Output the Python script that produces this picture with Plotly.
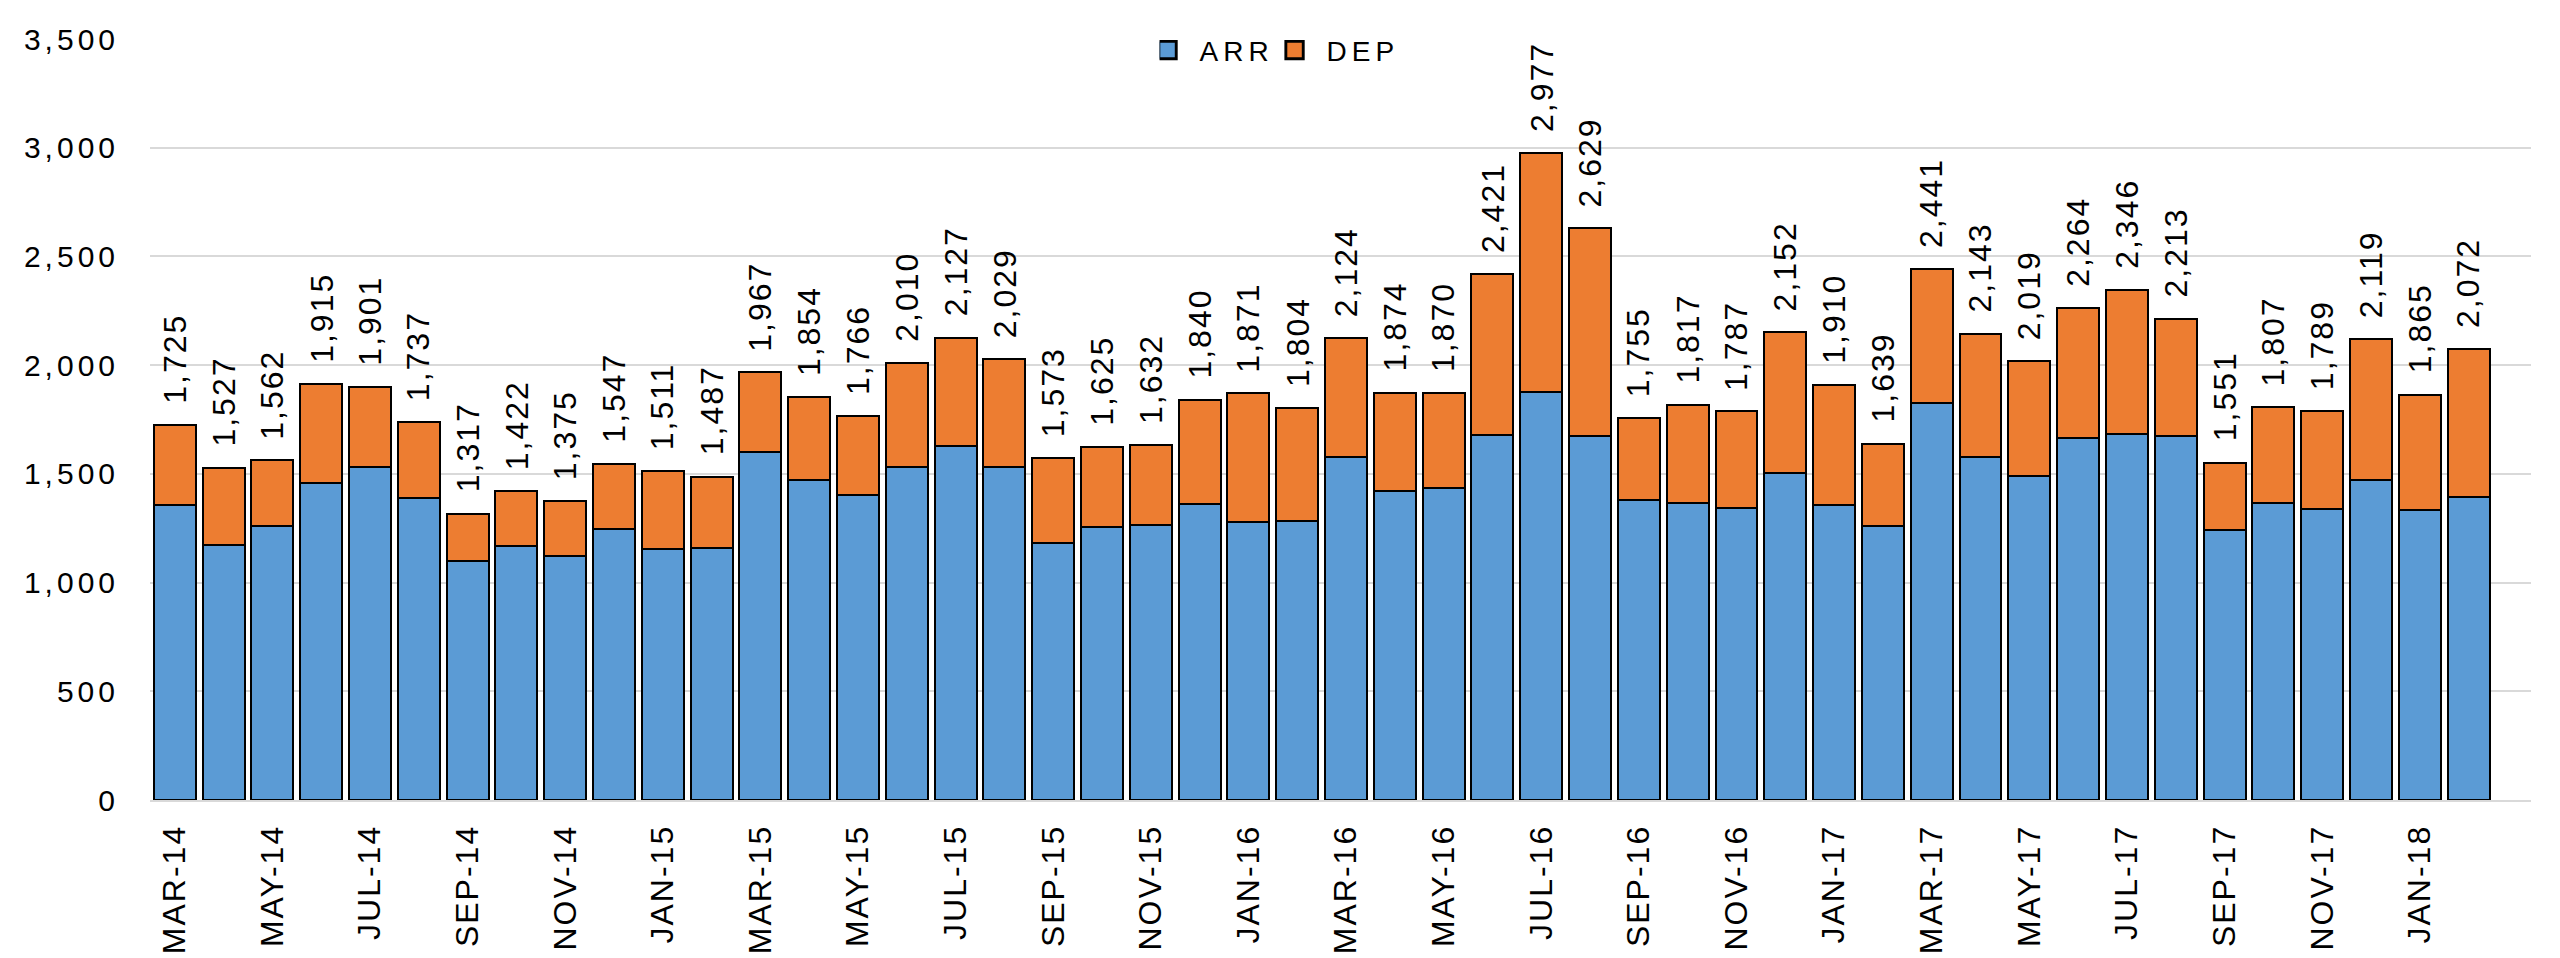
import plotly.graph_objects as go

months = ["MAR-14","APR-14","MAY-14","JUN-14","JUL-14","AUG-14","SEP-14","OCT-14","NOV-14","DEC-14","JAN-15","FEB-15",
          "MAR-15","APR-15","MAY-15","JUN-15","JUL-15","AUG-15","SEP-15","OCT-15","NOV-15","DEC-15","JAN-16","FEB-16",
          "MAR-16","APR-16","MAY-16","JUN-16","JUL-16","AUG-16","SEP-16","OCT-16","NOV-16","DEC-16","JAN-17","FEB-17",
          "MAR-17","APR-17","MAY-17","JUN-17","JUL-17","AUG-17","SEP-17","OCT-17","NOV-17","DEC-17","JAN-18","FEB-18"]

arr = [1355,1171,1258,1456,1532,1388,1101,1168,1124,1248,1153,1157,
       1600,1471,1402,1532,1627,1531,1183,1255,1264,1362,1280,1283,
       1579,1422,1436,1679,1875,1674,1379,1367,1344,1506,1355,1261,
       1824,1577,1491,1665,1685,1673,1241,1367,1339,1474,1335,1393]

dep = [370,356,304,459,369,349,216,254,251,299,358,330,
       367,383,364,478,500,498,390,370,368,478,591,521,
       545,452,434,742,1102,955,376,450,443,646,555,378,
       617,566,528,599,661,540,310,440,450,645,530,679]

totals = [a + d for a, d in zip(arr, dep)]
total_labels = [f"{t:,}" for t in totals]

tick_months = months[::2]
y_ticks = [0, 500, 1000, 1500, 2000, 2500, 3000, 3500]

FONT = "Arial, 'Liberation Sans', sans-serif"

fig = go.Figure()
fig.add_trace(go.Bar(
    x=months, y=arr, name="ARR",
    marker=dict(color="#5B9BD5", line=dict(color="#000000", width=2)),
))
fig.add_trace(go.Bar(
    x=months, y=dep, name="DEP",
    marker=dict(color="#ED7D31", line=dict(color="#000000", width=2)),
))

for m, t, lab in zip(months, totals, total_labels):
    fig.add_annotation(
        x=m, y=t, xref="x", yref="y", text=lab, showarrow=False,
        textangle=-90, xanchor="center", yanchor="bottom", yshift=24,
        font=dict(family=FONT, size=32, color="#000000"),
    )

fig.update_layout(
    barmode="stack",
    bargap=0.14,
    width=2560, height=958,
    margin=dict(l=142, r=37, t=31, b=166),
    paper_bgcolor="white", plot_bgcolor="white",
    font=dict(family=FONT, size=30, color="#000000"),
    legend=dict(orientation="h", x=0.424, xanchor="left", y=0.985, yanchor="middle",
                font=dict(family=FONT, size=28, color="#000000"),
                bgcolor="rgba(0,0,0,0)", itemwidth=30, entrywidth=82,
                traceorder="normal"),
    showlegend=True,
)
fig.update_xaxes(
    type="category", tickmode="array", tickvals=tick_months, ticktext=tick_months,
    range=[-0.508, 48.28],
    tickangle=-90, showgrid=False, showline=True, linecolor="#D9D9D9", linewidth=2,
    ticks="", ticklabelstandoff=10, tickfont=dict(family=FONT, size=32),
)
fig.update_yaxes(
    range=[0, 3500], tickmode="array", tickvals=y_ticks, tickformat=",d",
    showgrid=True, gridcolor="#D9D9D9", gridwidth=2, zeroline=False,
    showline=False, ticks="", ticklabelstandoff=30, tickfont=dict(family=FONT, size=30),
)

post = """
var s=document.createElement('style');
s.innerHTML='.xtick text {letter-spacing:2px;} .ytick text {letter-spacing:4px;} .legendtext {letter-spacing:5px;} .annotation-text {letter-spacing:2px;} .legendpoints path {transform: translate(8px,0px) scale(1.45);}';
document.head.appendChild(s);
"""
fig.write_html("out.html", post_script=post)
